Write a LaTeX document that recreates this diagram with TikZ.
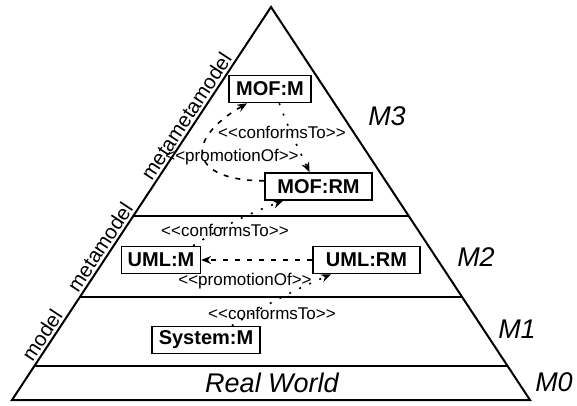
\documentclass[tikz,border=0pt]{standalone}
\usepackage{fontspec}
\setmainfont{Liberation Sans}
\usetikzlibrary{arrows.meta,calc}
\newcommand{\stereotype}[1]{<\kern0pt<#1>\kern0pt>}

\begin{document}
\begin{tikzpicture}[x=1pt, y=1pt,
            box/.style={rectangle, draw, line width=1.6pt, minimum height=27pt, inner xsep=6pt, font=\fontsize{20}{23}\selectfont\bfseries},
            level/.style={font=\fontsize{27}{30}\selectfont\itshape},
            side/.style={sloped, above, inner sep=3pt, font=\fontsize{20.5}{23}\selectfont},
            stereo/.style={inner sep=0pt, font=\fontsize{17}{20}\selectfont},
            conf/.style={-{Stealth[length=10pt,width=8pt]}, line width=1.6pt, dash pattern=on 2pt off 9pt},
            prom/.style={-{Stealth[length=10pt,width=8pt]}, line width=1.6pt, dash pattern=on 5pt off 7pt}
        ]
            \useasboundingbox (0,0) rectangle (577,-406);
            \coordinate (apex) at (271,-7);
            \coordinate (bl) at (12,-400);
            \coordinate (br) at (530,-400);
            \draw[line width=2pt] (apex) -- (bl) -- (br) -- cycle;
            \draw[line width=2pt] ($(apex)!0.532!(bl)$) -- ($(apex)!0.532!(br)$);
            \draw[line width=2pt] ($(apex)!0.738!(bl)$) -- ($(apex)!0.738!(br)$);
            \draw[line width=2pt] ($(apex)!0.914!(bl)$) -- ($(apex)!0.914!(br)$);

            \path (bl) -- (apex)
                node[side, pos=0.15] (lblmodel) {model}
                node[side, pos=0.374] (lblmeta) {metamodel}
                node[side, pos=0.707] (lblmetameta) {metametamodel};

            \node[level] (m3) at (387,-116) {M3};
            \node[level] (m2) at (476,-257) {M2};
            \node[level] (m1) at (517,-329) {M1};
            \node[level] (m0) at (554,-382) {M0};
            \node[level] (world) at (272,-383) {Real World};

            \node[box, minimum width=82pt] (mofm) at (270,-89) {MOF:M};
            \node[box, minimum width=107pt] (mofrm) at (318.5,-186.5) {MOF:RM};
            \node[box, minimum width=78pt] (umlm) at (161,-260) {UML:M};
            \node[box, minimum width=107pt] (umlrm) at (366.5,-260) {UML:RM};
            \node[box, minimum width=108pt] (sysm) at (206,-340) {System:M};

            \node[stereo] (conf3) at (282,-132) {\stereotype{conformsTo}};
            \node[stereo] (prom3) at (232,-157) {\stereotype{promotionOf}};
            \node[stereo] (conf2) at (225,-230) {\stereotype{conformsTo}};
            \node[stereo] (prom2) at (245,-281) {\stereotype{promotionOf}};
            \node[stereo] (conf1) at (272,-313) {\stereotype{conformsTo}};

            \draw[conf] (mofm.-57) to[out=-70, in=115] (mofrm.122);
            \draw[prom] (mofrm.174) to[out=180, in=210, looseness=2.4] (mofm.212);
            \draw[conf] (umlm.24) to[bend left=6] (mofrm.202);
            \draw[prom] (umlrm.west) -- (umlm.east);
            \draw[conf] (sysm.29) to[bend left=4] (umlrm.202);
        \end{tikzpicture}
\end{document}
